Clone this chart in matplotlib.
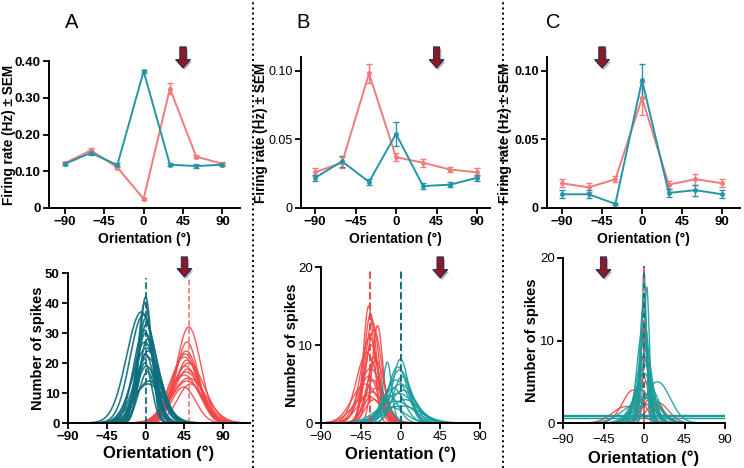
"""Orientation tuning: mean firing rate (top) and fitted tuning curves (bottom) for three cells."""

import numpy as np
import matplotlib
matplotlib.use("Agg")
import matplotlib.pyplot as plt
import matplotlib.transforms as mtransforms
from matplotlib.lines import Line2D
from matplotlib.patches import FancyArrowPatch
from matplotlib import patheffects

plt.rcParams['font.family'] = ['Liberation Sans', 'DejaVu Sans']

# ---- top row: firing rate +- SEM at each orientation ----
orient = [-90, -60, -30, 0, 30, 60, 90]

a_blue = [0.120, 0.150, 0.117, 0.372, 0.118, 0.114, 0.118]
a_blue_err = [0.004, 0.006, 0.005, 0.004, 0.005, 0.005, 0.004]
a_red = [0.122, 0.157, 0.110, 0.025, 0.325, 0.140, 0.120]
a_red_err = [0.004, 0.006, 0.005, 0.003, 0.015, 0.005, 0.004]

b_blue = [0.022, 0.034, 0.019, 0.054, 0.016, 0.017, 0.022]
b_blue_err = [0.002, 0.004, 0.002, 0.009, 0.002, 0.002, 0.002]
b_red = [0.026, 0.033, 0.098, 0.037, 0.033, 0.028, 0.026]
b_red_err = [0.003, 0.004, 0.007, 0.003, 0.003, 0.002, 0.003]

c_blue = [0.010, 0.010, 0.003, 0.093, 0.011, 0.013, 0.010]
c_blue_err = [0.003, 0.003, 0.001, 0.012, 0.003, 0.004, 0.003]
c_red = [0.018, 0.015, 0.021, 0.080, 0.017, 0.021, 0.018]
c_red_err = [0.003, 0.003, 0.002, 0.012, 0.003, 0.004, 0.003]

# ---- bottom row: fitted tuning curves (centre deg, peak spikes, width deg) ----
a_blue_ctr = [0, -1, -5, -3, 0, 1, -2, 0, 2, -1, 1, 3, 0, 2, -1, 1, 2, 4, 3]
a_blue_amp = [42, 40, 37, 36, 35, 33, 31, 30, 28, 27, 25, 24, 23, 22, 20, 19, 17, 14, 13]
a_blue_wid = [7, 8, 17, 15, 9, 10, 12, 11, 9, 14, 16, 13, 10, 15, 8, 12, 10, 16, 18]

a_red_ctr = [50, 48, 47, 46, 45, 48, 50, 46, 49, 47, 45, 50, 48, 52, 44]
a_red_amp = [32, 27, 24, 23, 22, 21, 20, 19, 18, 17, 16, 15, 14, 13, 12]
a_red_wid = [14, 13, 15, 16, 17, 14, 18, 15, 16, 19, 17, 20, 18, 15, 14]

b_red_ctr = [-36, -34, -32, -26, -30, -35, -33, -38, -30, -28, -34, -36, -31, -40, -27, -33, -38, -30]
b_red_amp = [15, 14, 13, 12.5, 12, 11, 10, 9, 8.5, 8, 7, 6, 5.5, 5, 4.5, 4, 3.5, 3]
b_red_wid = [6, 7, 8, 6, 9, 10, 8, 12, 7, 10, 13, 11, 9, 15, 12, 14, 16, 10]

b_blue_ctr = [0, -15, -3, -1, 2, -5, 0, -8, 3, -2, -12, 5, -6, -18, 1, -10]
b_blue_amp = [8.2, 7.8, 7.2, 6.8, 6, 5.5, 5, 4.5, 4.2, 3.8, 3.5, 3, 2.8, 2.5, 2.2, 2]
b_blue_wid = [9, 5, 11, 13, 10, 14, 16, 12, 15, 18, 10, 17, 20, 8, 22, 15]

c_red_ctr = [0, 2, -2, 8, -12, -20, 15, 5]
c_red_amp = [12, 8, 6, 3, 4, 2, 2.5, 3.2]
c_red_wid = [4, 5, 7, 10, 12, 15, 12, 8]

c_blue_ctr = [0, 3, 0, -1, 1, -2, 0, 2, -1, 1, 0, 3, 15, -3, 5, 2, -5]
c_blue_amp = [18.5, 16.5, 15, 14, 12, 11, 10.5, 9, 8, 7, 6, 5, 5, 4, 3.5, 3, 2.5]
c_blue_wid = [2.5, 3, 3.5, 4, 5, 6, 5, 7, 8, 9, 10, 12, 14, 11, 13, 15, 18]
c_flat = [0.55, 0.85, 1.0]

TEAL_TOP = "#2494a7"
RED_TOP = "#f07b7b"
TEAL_DARK = "#0f6e7e"
TEAL = "#1a9c9c"
RED = "#f24646"
W, H = 744, 468

fig = plt.figure(figsize=(W / 100, H / 100), dpi=100)


def px_axes(left, right, top, bottom):
    return fig.add_axes([left / W, 1 - bottom / H, (right - left) / W, (bottom - top) / H])


def style(ax, bold_x=True, bold_y=True, size=9.5, ysize=None):
    for s in ("top", "right"):
        ax.spines[s].set_visible(False)
    for s in ("left", "bottom"):
        ax.spines[s].set_linewidth(1.4)
    ax.tick_params(direction="out", length=4, width=1.3, labelsize=size, pad=2)
    if ysize:
        ax.tick_params(axis="y", labelsize=ysize)
    for lab in ax.get_xticklabels():
        lab.set_fontweight("bold" if bold_x else "normal")
    for lab in ax.get_yticklabels():
        lab.set_fontweight("bold" if bold_y else "normal")


def label_at(ax, ylab_right_px, xlab_top_px):
    # right edge of the rotated y label / top edge of the x label, in figure pixels
    bb = ax.get_position()
    ax.yaxis.set_label_coords((ylab_right_px / W - bb.x0) / bb.width, 0.5)
    ax.xaxis.set_label_coords(0.5, ((1 - xlab_top_px / H) - bb.y0) / bb.height)


def down_arrow(ax, x, top_px, bot_px):
    tr = mtransforms.blended_transform_factory(ax.transData, fig.transFigure)
    arr = FancyArrowPatch((x, 1 - top_px / H), (x, 1 - bot_px / H), transform=tr,
                          arrowstyle="simple,head_length=0.6,head_width=1.05,tail_width=0.45",
                          mutation_scale=10, shrinkA=0, shrinkB=0,
                          fc="#8a1a24", ec="#2c2f5c", lw=0.6, clip_on=False, zorder=10,
                          path_effects=[patheffects.withSimplePatchShadow(
                              offset=(1.2, -1.5), shadow_rgbFace="#7080a8", alpha=0.55),
                              patheffects.Normal()])
    fig.add_artist(arr)


def top_panel(ax, blue, blue_err, red, red_err, xlim, ylim, yticks, yfmt):
    ax.errorbar(orient, red, yerr=red_err, color=RED_TOP, lw=1.4, marker="o", ms=2.5,
                capsize=2, elinewidth=1.0, capthick=1.0)
    ax.errorbar(orient, blue, yerr=blue_err, color=TEAL_TOP, lw=1.4, marker="o", ms=2.5,
                capsize=2, elinewidth=1.0, capthick=1.0)
    ax.set_xlim(*xlim)
    ax.set_ylim(*ylim)
    ax.set_xticks([-90, -45, 0, 45, 90])
    ax.set_yticks(yticks)
    ax.set_yticklabels([yfmt(v) for v in yticks])
    ax.set_xlabel("Orientation (°)", fontsize=10, fontweight="bold")
    ax.set_ylabel("Firing rate (Hz) ± SEM", fontsize=9.8, fontweight="bold")


def curves(ax, ctr, amp, wid, color, xlim, lw=1.0):
    th = np.linspace(xlim[0], xlim[1], 500)
    for c, a, w in zip(ctr, amp, wid):
        ax.plot(th, a * np.exp(-0.5 * ((th - c) / w) ** 2), color=color, lw=lw, alpha=0.9)


def bottom_labels(ax):
    ax.set_xlabel("Orientation (°)", fontsize=12, fontweight="bold")
    ax.set_ylabel("Number of spikes", fontsize=10.5, fontweight="bold")


fmt2 = lambda v: "0" if v == 0 else f"{v:.2f}"

# ---- panel A ----
ax = px_axes(49, 240, 61, 208)
top_panel(ax, a_blue, a_blue_err, a_red, a_red_err, (-108, 110), (0, 0.40),
          [0, 0.1, 0.2, 0.3, 0.4], fmt2)
style(ax)
label_at(ax, 16, 232)
down_arrow(ax, 45, 47, 68)

ax = px_axes(68, 250, 273, 423)
xl = (-90, 121)
curves(ax, a_red_ctr, a_red_amp, a_red_wid, RED, xl)
curves(ax, a_blue_ctr, a_blue_amp, a_blue_wid, TEAL_DARK, xl, lw=1.2)
ax.plot([0, 0], [0, 48.5], ls="--", color=TEAL_DARK, lw=1.3)
ax.plot([50, 50], [0, 48.5], ls="--", color=RED, lw=1.1, alpha=0.8)
ax.set_xlim(*xl)
ax.set_ylim(0, 50)
ax.set_xticks([-90, -45, 0, 45, 90])
ax.set_yticks([0, 10, 20, 30, 40, 50])
bottom_labels(ax)
style(ax)
label_at(ax, 45, 445)
down_arrow(ax, 45, 257, 277)

# ---- panel B ----
ax = px_axes(301, 490, 57, 208)
top_panel(ax, b_blue, b_blue_err, b_red, b_red_err, (-105.6, 104.4), (0, 0.11),
          [0, 0.05, 0.10], fmt2)
style(ax, bold_y=False, ysize=9)
label_at(ax, 268, 232)
down_arrow(ax, 45, 47, 68)

ax = px_axes(321, 480, 267, 423)
xl = (-90, 90)
curves(ax, b_red_ctr, b_red_amp, b_red_wid, RED, xl)
curves(ax, b_blue_ctr, b_blue_amp, b_blue_wid, TEAL, xl)
ax.plot([-35, -35], [0, 19.5], ls="--", color=RED, lw=1.4)
ax.plot([0, 0], [0, 19.5], ls="--", color=TEAL_DARK, lw=1.4)
ax.set_xlim(*xl)
ax.set_ylim(0, 20)
ax.set_xticks([-90, -45, 0, 45, 90])
ax.set_yticks([0, 10, 20])
bottom_labels(ax)
style(ax, bold_x=False, bold_y=False)
label_at(ax, 299, 446)
down_arrow(ax, 45, 257, 278)

# ---- panel C ----
ax = px_axes(547, 740, 57, 208)
top_panel(ax, c_blue, c_blue_err, c_red, c_red_err, (-106.8, 110), (0, 0.11),
          [0, 0.05, 0.10], fmt2)
style(ax, ysize=9)
label_at(ax, 512, 232)
down_arrow(ax, -45, 47, 68)

ax = px_axes(563, 725, 258, 423)
xl = (-90, 90)
curves(ax, c_red_ctr, c_red_amp, c_red_wid, RED, xl)
curves(ax, c_blue_ctr, c_blue_amp, c_blue_wid, TEAL, xl)
for lvl in c_flat:
    ax.plot(xl, [lvl, lvl], color=TEAL, lw=1.0)
ax.plot([0, 0], [0, 19], ls="--", color=RED, lw=1.2)
ax.plot([0.5, 0.5], [0, 19], ls=(3, (3, 3)), color=TEAL_DARK, lw=1.2)
ax.set_xlim(*xl)
ax.set_ylim(0, 20)
ax.set_xticks([-90, -45, 0, 45, 90])
ax.set_yticks([0, 10, 20])
bottom_labels(ax)
style(ax, bold_x=False, bold_y=False)
ax.tick_params(axis="x", pad=4)
label_at(ax, 539, 450)
down_arrow(ax, -45, 257, 278)

# ---- panel letters and dotted dividers ----
for letter, xp in (("A", 72), ("B", 303), ("C", 553)):
    fig.text(xp / W, 1 - 23 / H, letter, ha="center", va="center", fontsize=14.5)
for xp in (253, 503):
    fig.add_artist(Line2D([xp / W, xp / W], [0, 1], transform=fig.transFigure,
                          ls=":", color="k", lw=1.4))

fig.savefig("out.png", dpi=100)
